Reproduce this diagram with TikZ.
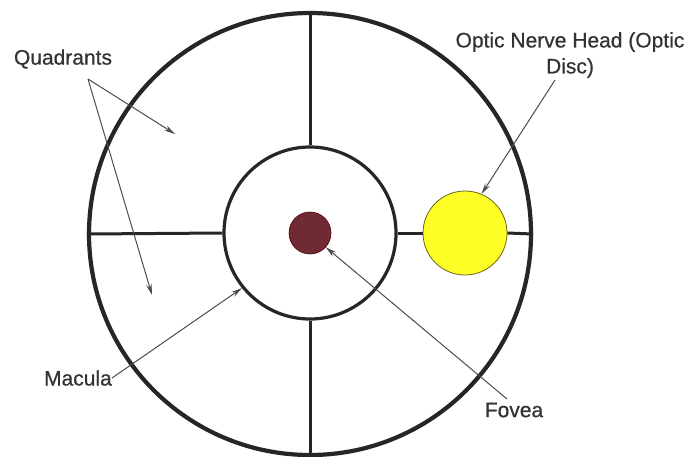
\documentclass[tikz,border=0pt]{standalone}
\usepackage{fontspec}
\setmainfont[FakeBold=0.6]{Liberation Sans}
\usetikzlibrary{arrows.meta}
\begin{document}
\begin{tikzpicture}[x=1pt,y=-1pt,
  lbl/.style={font=\fontsize{21}{26}\selectfont, text=black!80, inner sep=0pt, align=center},
  ptr/.style={draw=black!70, line width=1pt, -{Stealth[length=11pt,width=5.5pt]}},
  ring/.style={circle, draw=black!85, inner sep=0pt},
  spoke/.style={draw=black!85, line width=3pt}]
\useasboundingbox (0,0) rectangle (692,456);
\fill[white] (0,0) rectangle (692,456);
% shapes
\node[ring, line width=4.2pt, minimum size=442pt] (outer) at (310,234) {};
\node[ring, line width=3.2pt, minimum size=172pt] (macula) at (310,233) {};
\node[circle, draw=black!70!red, fill={rgb,255:red,112;green,42;blue,52}, line width=0.6pt, minimum size=42pt, inner sep=0pt] (fovea) at (310,233) {};
\node[circle, draw={rgb,255:red,110;green,100;blue,20}, fill={rgb,255:red,255;green,255;blue,40}, line width=0.8pt, minimum size=84pt, inner sep=0pt] (disc) at (465,233) {};
% spokes
\draw[spoke] (outer.north) -- (macula.north);
\draw[spoke] (macula.south) -- (outer.south);
\draw[spoke] (outer.west) -- (macula.west);
\draw[spoke] (macula.east) -- (disc.west);
\draw[spoke] (disc.east) -- (outer.east);
% labels
\node[lbl] (quad) at (63,59) {Quadrants};
\node[lbl] (onh) at (570,55) {Optic Nerve Head (Optic\\Disc)};
\node[lbl, anchor=east] (mac) at (112,378) {Macula};
\node[lbl] (fov) at (514,410) {Fovea};
% connector ends
\coordinate (qtail) at (88,79);
\coordinate (q1) at (175,134);
\coordinate (q2) at (152,295);
\coordinate (otail) at (555,80);
\coordinate (ftail) at (507,399);
% connectors
\draw[ptr] (qtail) -- (q1);
\draw[ptr] (qtail) -- (q2);
\draw[ptr] (otail) -- (disc.67);
\draw[ptr] (mac.east) -- (macula.219);
\draw[ptr] (ftail) -- (fovea.318);
\end{tikzpicture}
\end{document}
